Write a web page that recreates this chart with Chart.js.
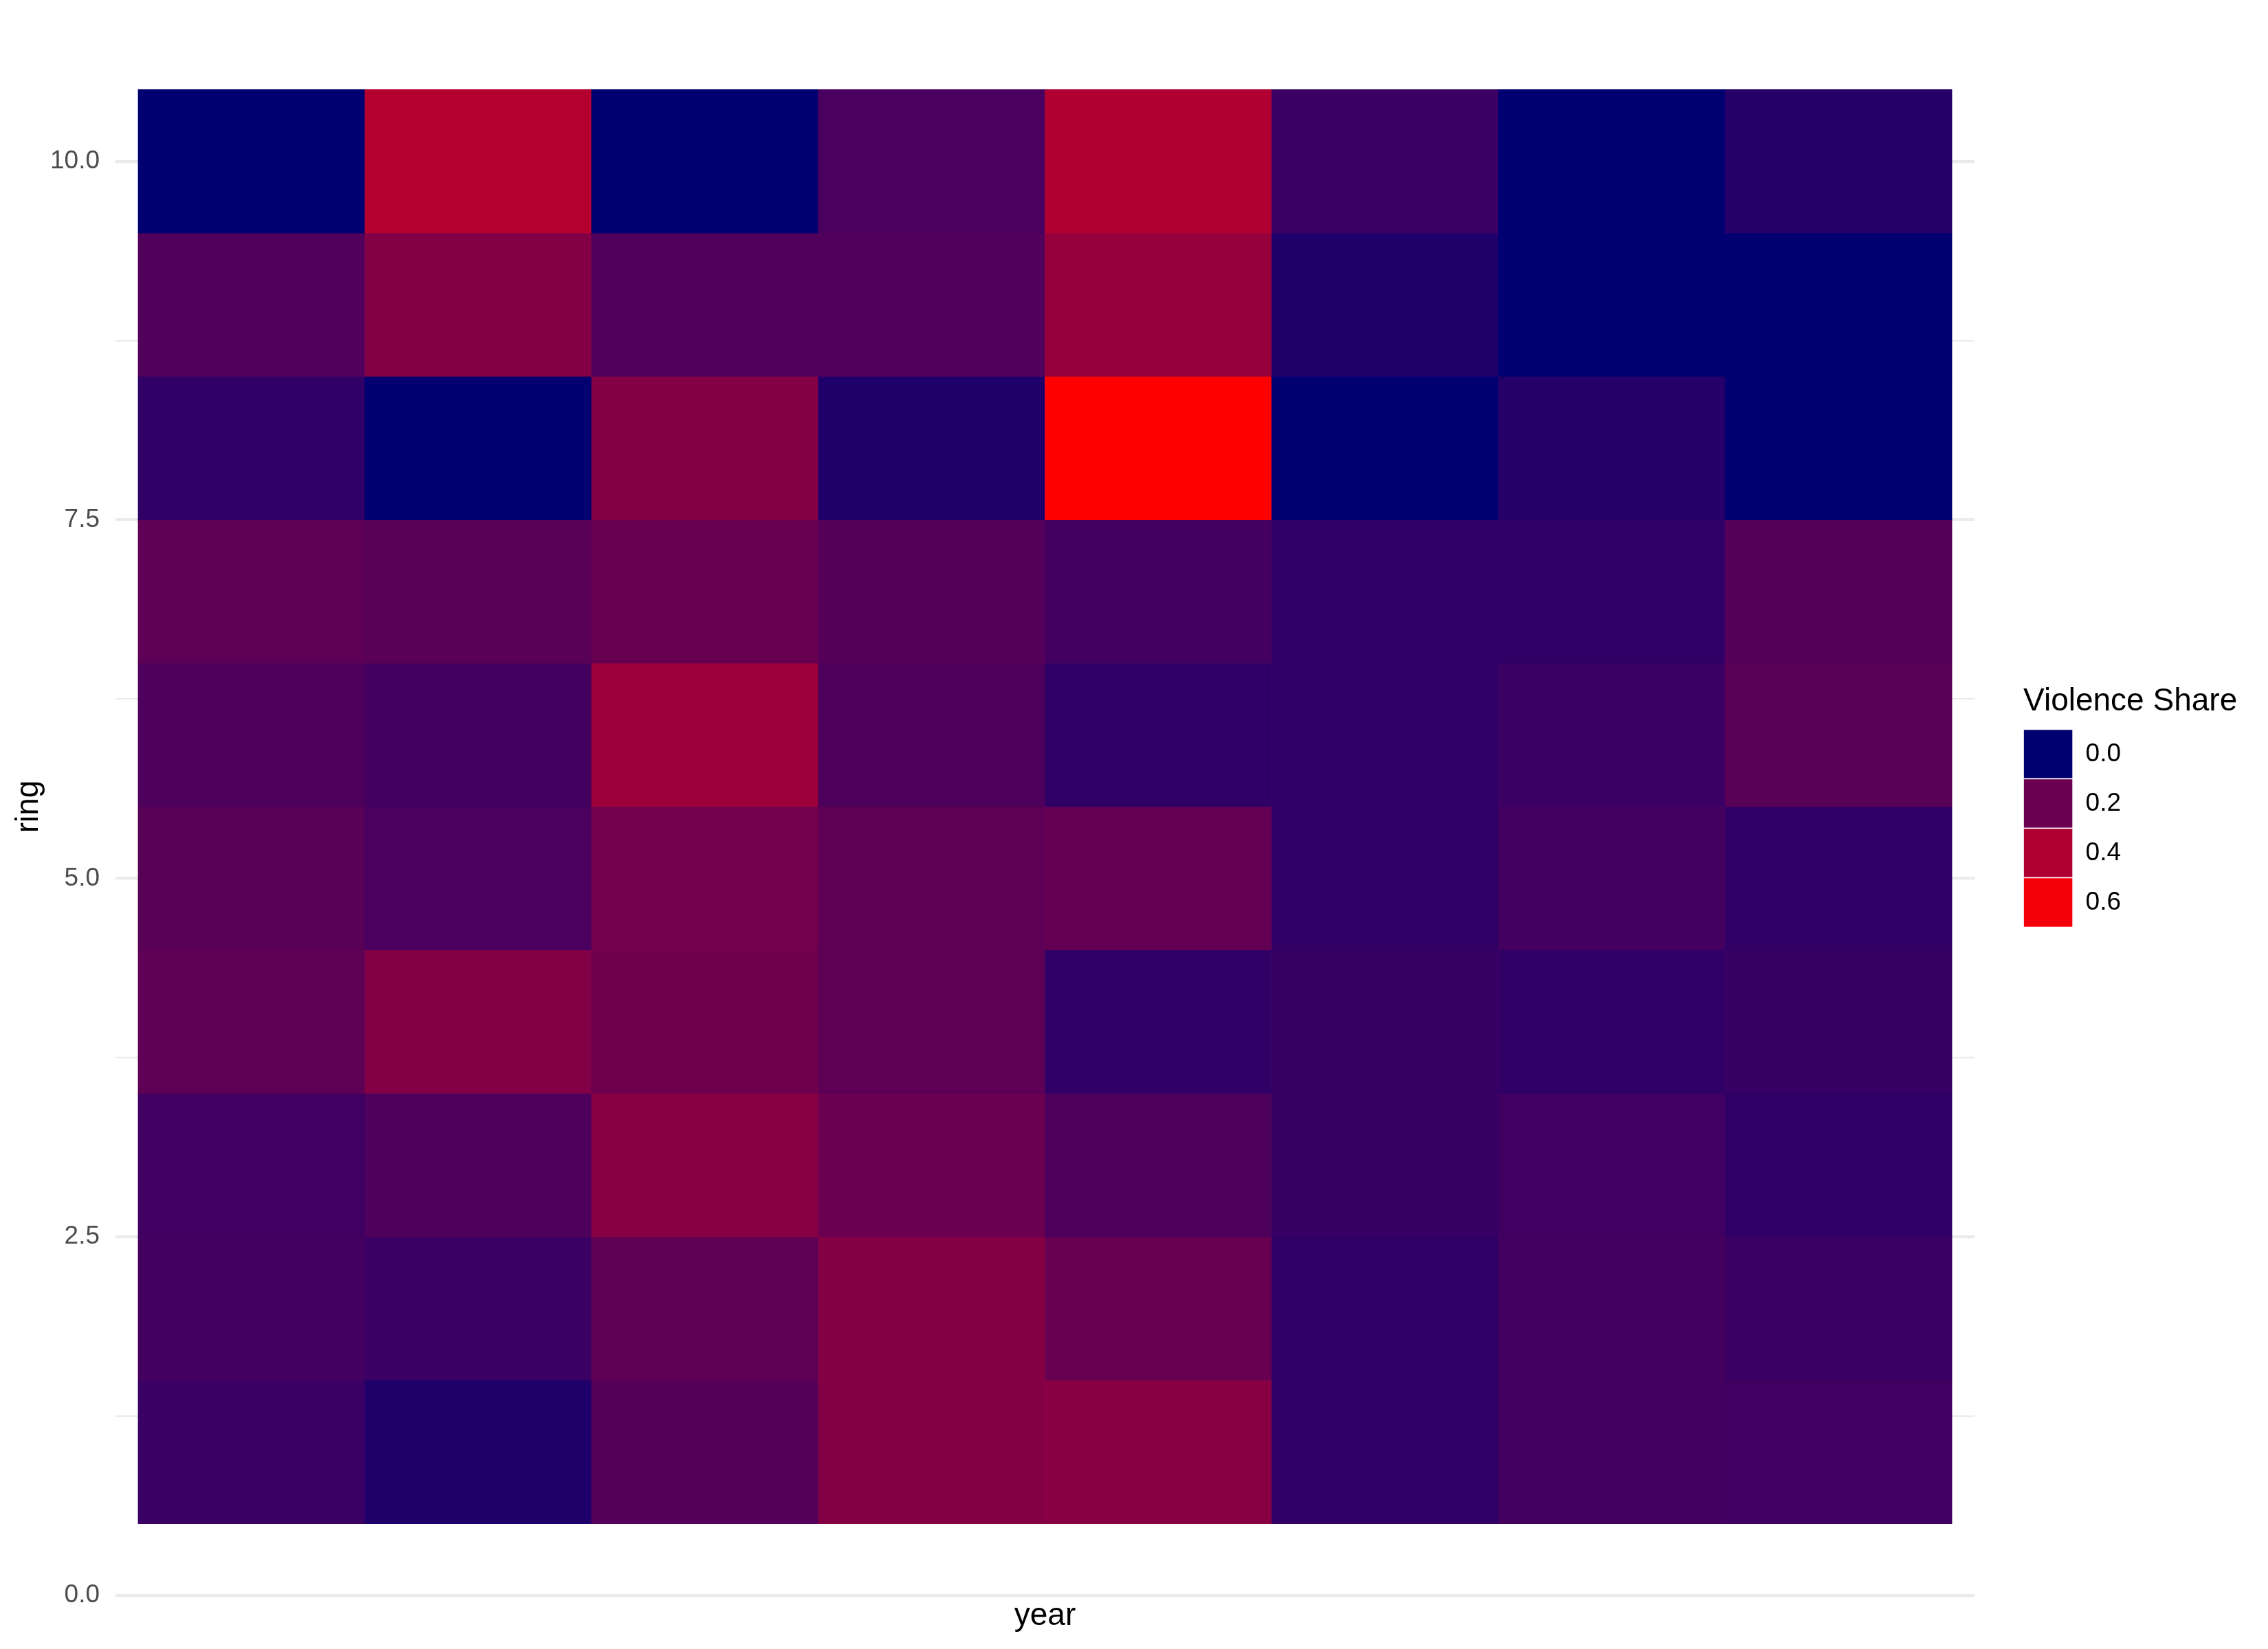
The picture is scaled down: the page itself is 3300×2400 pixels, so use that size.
<!DOCTYPE html>
<html>
<head>
<meta charset="utf-8">
<title>Violence Share by ring and year</title>
<script src="https://cdn.jsdelivr.net/npm/chart.js@4/dist/chart.umd.min.js"></script>
<style>
  html, body { margin: 0; padding: 0; background: #fff; }
  #heat { display: block; }
</style>
</head>
<body>
<canvas id="heat" width="3300" height="2400"></canvas>
<script>
// =============================================
// Data: violence share per ring (rows) and year (columns)
// year labels are not printed in the original, columns are just 1..8
// =============================================
const years = [1, 2, 3, 4, 5, 6, 7, 8];
const rings = [1, 2, 3, 4, 5, 6, 7, 8, 9, 10];

const ring1  = [0.08, 0.03, 0.14, 0.27, 0.28, 0.06, 0.10, 0.09];
const ring2  = [0.10, 0.08, 0.17, 0.27, 0.19, 0.06, 0.10, 0.08];
const ring3  = [0.09, 0.12, 0.28, 0.20, 0.12, 0.07, 0.09, 0.06];
const ring4  = [0.16, 0.26, 0.21, 0.16, 0.06, 0.07, 0.06, 0.07];
const ring5  = [0.15, 0.11, 0.22, 0.16, 0.18, 0.06, 0.10, 0.06];
const ring6  = [0.12, 0.10, 0.34, 0.12, 0.06, 0.06, 0.08, 0.15];
const ring7  = [0.16, 0.15, 0.19, 0.14, 0.10, 0.06, 0.06, 0.14];
const ring8  = [0.06, 0.00, 0.27, 0.03, 0.63, 0.00, 0.04, 0.00];
const ring9  = [0.13, 0.26, 0.13, 0.13, 0.32, 0.03, 0.00, 0.00];
const ring10 = [0.00, 0.41, 0.00, 0.11, 0.40, 0.08, 0.00, 0.04];
const shareByRing = [ring1, ring2, ring3, ring4, ring5, ring6, ring7, ring8, ring9, ring10];

const legendBreaks = [0.0, 0.2, 0.4, 0.6];
const yTicks = [0, 1.25, 2.5, 3.75, 5, 6.25, 7.5, 8.75, 10];

// navy -> red, interpolated in CIELAB like ggplot's scale_fill_gradient,
// then darkened a little the way the original device output looks
const WHITE = [0.95047, 1, 1.08883];
const DEVICE_GAMMA = 1.2;
const toLin = c => { c /= 255; return c <= 0.04045 ? c / 12.92 : Math.pow((c + 0.055) / 1.055, 2.4); };
const toByte = c => {
  c = c <= 0.0031308 ? 12.92 * c : 1.055 * Math.pow(c, 1 / 2.4) - 0.055;
  c = Math.max(0, Math.min(1, c));
  return Math.round(Math.pow(c, DEVICE_GAMMA) * 255);
};
function rgbToLab([r, g, b]) {
  const R = toLin(r), G = toLin(g), B = toLin(b);
  const f = t => t > 0.008856 ? Math.cbrt(t) : 7.787 * t + 16 / 116;
  const fx = f((0.4124 * R + 0.3576 * G + 0.1805 * B) / WHITE[0]);
  const fy = f((0.2126 * R + 0.7152 * G + 0.0722 * B) / WHITE[1]);
  const fz = f((0.0193 * R + 0.1192 * G + 0.9505 * B) / WHITE[2]);
  return [116 * fy - 16, 500 * (fx - fy), 200 * (fy - fz)];
}
function labToRgb([L, a, b]) {
  const fy = (L + 16) / 116, fx = fy + a / 500, fz = fy - b / 200;
  const fi = t => t > 0.206893 ? t * t * t : (t - 16 / 116) / 7.787;
  const X = fi(fx) * WHITE[0], Y = fi(fy) * WHITE[1], Z = fi(fz) * WHITE[2];
  const R = 3.2406 * X - 1.5372 * Y - 0.4986 * Z;
  const G = -0.9689 * X + 1.8758 * Y + 0.0415 * Z;
  const B = 0.0557 * X - 0.2040 * Y + 1.0570 * Z;
  return `rgb(${toByte(R)},${toByte(G)},${toByte(B)})`;
}
const lowLab = rgbToLab([0, 0, 128]), highLab = rgbToLab([255, 0, 0]);
const allShares = shareByRing.flat();
const lo = Math.min(...allShares), hi = Math.max(...allShares);
const fillColor = v => {
  const t = (v - lo) / (hi - lo);
  return labToRgb(lowLab.map((l, i) => l + (highLab[i] - l) * t));
};

// one tile per (year, ring): floating bar from ring-0.5 to ring+0.5
const cells = [];
rings.forEach((r, ri) => years.forEach((yr, ci) => {
  cells.push({ x: yr, y: [r - 0.5, r + 0.5], v: shareByRing[ri][ci] });
}));

// the legend clips to its own box, which is sized from the keys only;
// let it run to the canvas edge so the title is not cut
const legendRoom = {
  id: 'legendRoom',
  afterLayout(chart) {
    const lg = chart.legend;
    if (lg) { lg.right = chart.width; lg.width = lg.right - lg.left; }
  }
};

Chart.defaults.font.family = "'Liberation Sans', Arial, Helvetica, sans-serif";

new Chart(document.getElementById('heat'), {
  type: 'bar',
  data: {
    datasets: [{
      data: cells,
      backgroundColor: cells.map(c => fillColor(c.v)),
      borderWidth: 0,
      barPercentage: 1,
      categoryPercentage: 1
    }]
  },
  plugins: [legendRoom],
  options: {
    responsive: false,
    animation: false,
    layout: { padding: { top: 26, right: 204, bottom: 0, left: 0 } },
    plugins: {
      tooltip: { enabled: false },
      legend: {
        position: 'right', align: 'center', fullSize: false,
        title: { display: true, text: 'Violence Share', position: 'start', color: '#000', font: { size: 46 }, padding: { top: 0, bottom: 8 } },
        labels: {
          boxWidth: 72, boxHeight: 72, padding: 0, color: '#000', font: { size: 37 },
          generateLabels: () => legendBreaks.map(b => ({
            text: b.toFixed(1), fillStyle: fillColor(b), strokeStyle: '#fff', lineWidth: 1.5, fontColor: '#000', hidden: false
          }))
        }
      }
    },
    scales: {
      x: {
        type: 'linear', min: 0.4, max: 8.6, offset: false,
        afterBuildTicks: s => { s.ticks = years.map(v => ({ value: v })); },
        afterFit: s => { s.height = 78; },
        ticks: { display: false },
        grid: { display: false, offset: false },
        border: { display: false },
        title: { display: true, text: 'year', color: '#000', font: { size: 46 }, padding: { top: 0, bottom: 20 } }
      },
      y: {
        type: 'linear', min: 0, max: 11,
        afterBuildTicks: s => { s.ticks = yTicks.map(v => ({ value: v })); },
        afterFit: s => { s.width = 168; s.paddingTop = 0; s.paddingBottom = 0; },
        ticks: {
          autoSkip: false, padding: 23, color: '#4D4D4D', font: { size: 37 },
          callback: v => v % 2.5 === 0 ? v.toFixed(1) : ''
        },
        grid: {
          drawTicks: false, color: '#EBEBEB',
          lineWidth: ctx => (ctx.tick && ctx.tick.value % 2.5 === 0) ? 4.3 : 2.2
        },
        border: { display: false },
        title: { display: true, text: 'ring', color: '#000', font: { size: 46 }, padding: { top: 15, bottom: 3 } }
      },
      // spacer between panel and legend
      gap: {
        type: 'linear', position: 'right', display: true,
        afterFit: s => { s.width = 71; s.paddingTop = 0; s.paddingBottom = 0; },
        ticks: { display: false },
        grid: { display: false },
        border: { display: false }
      }
    }
  }
});
</script>
</body>
</html>
